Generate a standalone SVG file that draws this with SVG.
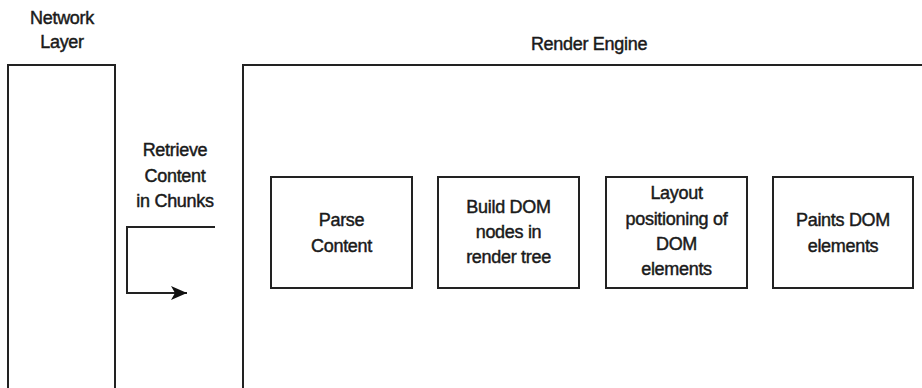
<svg xmlns="http://www.w3.org/2000/svg" width="922" height="388" viewBox="0 0 922 388">
<style>
text{font-family:"Liberation Sans",Arial,sans-serif;font-size:18px;letter-spacing:-0.3px;fill:#1a1a1a;stroke:#1a1a1a;stroke-width:0.45px;text-anchor:middle}
.b{fill:none;stroke:#222;stroke-width:2}
.c{fill:none;stroke:#222;stroke-width:2}
</style>
<defs>
<marker id="ah" markerUnits="userSpaceOnUse" markerWidth="16" markerHeight="14" refX="16" refY="7" orient="auto">
<path d="M0,0 L16,7 L0,14 L4,7 Z" fill="#111"/>
</marker>
</defs>
<rect width="922" height="388" fill="#fff"/>
<g id="network">
<path class="b" d="M8,392 V65 H115 V392"/>
<text x="62" y="24">Network</text>
<text x="62" y="48">Layer</text>
</g>
<g id="render">
<path class="b" d="M243,392 V65 H926"/>
<text x="589" y="50">Render Engine</text>
</g>
<g id="retrieve">
<text x="175" y="156">Retrieve</text>
<text x="175" y="182">Content</text>
<text x="175" y="207">in Chunks</text>
</g>
<g id="parse">
<rect class="b" x="271" y="177" width="141" height="111"/>
<text x="341.5" y="226">Parse</text>
<text x="341.5" y="252">Content</text>
</g>
<g id="build">
<rect class="b" x="438" y="177" width="141" height="111"/>
<text x="508.5" y="213">Build DOM</text>
<text x="508.5" y="238">nodes in</text>
<text x="508.5" y="263">render tree</text>
</g>
<g id="layout">
<rect class="b" x="606" y="177" width="141" height="111"/>
<text x="676.5" y="199">Layout</text>
<text x="676.5" y="225">positioning of</text>
<text x="676.5" y="250">DOM</text>
<text x="676.5" y="275">elements</text>
</g>
<g id="paints">
<rect class="b" x="773" y="177" width="140" height="111"/>
<text x="843" y="226">Paints DOM</text>
<text x="843" y="252">elements</text>
</g>
<g id="connectors">
<path class="c" d="M215,227 H127 V293 H187" marker-end="url(#ah)"/>
</g>
</svg>
